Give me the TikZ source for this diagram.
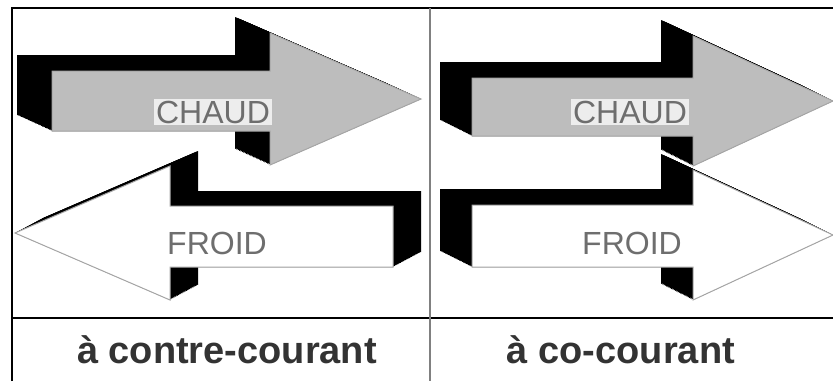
\documentclass[tikz,border=0pt]{standalone}
\usepackage{fontspec}
\setmainfont{Liberation Sans}
\usepackage{tikz}
\definecolor{chaudface}{HTML}{BDBDBD}
\definecolor{textbox}{HTML}{EDEDED}
\definecolor{facegray}{HTML}{6E6E6E}

\begin{document}
\begin{tikzpicture}[x=1pt, y=-1pt,
    front/.style={draw=gray!70, line width=1pt, line join=miter},
    facetext/.style={font=\fontsize{32}{34}\selectfont, text=facegray, inner sep=2pt},
    capt/.style={font=\fontsize{38}{40}\selectfont\bfseries, text=black!80},
    chaudL/.style={insert path={(52,71) -- (270,71) -- (270,33) -- (421,99) -- (270,165) -- (270,131) -- (52,131) -- cycle}},
    froidL/.style={insert path={(393,206) -- (170,206) -- (170,166) -- (15,233) -- (170,300) -- (170,267) -- (393,267) -- cycle}},
    chaudR/.style={insert path={(472,78) -- (693,78) -- (693,36) -- (833,101) -- (693,166) -- (693,136) -- (472,136) -- cycle}},
    froidR/.style={insert path={(472,205) -- (693,205) -- (693,170) -- (833,235) -- (693,300) -- (693,267) -- (472,267) -- cycle}}
]
\useasboundingbox (0,0) rectangle (833,381);

% frame
\draw[line width=1.3pt] (12,381) -- (12,8) -- (833,8);
\draw[line width=1.3pt] (12,318) -- (833,318);
\draw[gray, line width=1.3pt] (430,8) -- (430,381);

% extrusions
\foreach \i in {0,...,25} {
    \fill[black, shift={(-35*\i/25,-16*\i/25)}, chaudL];
    \fill[black, shift={(28*\i/25,-15*\i/25)}, froidL];
    \fill[black, shift={(-32*\i/25,-16*\i/25)}, chaudR];
    \fill[black, shift={(-32*\i/25,-16*\i/25)}, froidR];
}

% front faces
\filldraw[front, fill=chaudface, chaudL];
\filldraw[front, fill=white, froidL];
\filldraw[front, fill=chaudface, chaudR];
\filldraw[front, fill=white, froidR];

\node[facetext, fill=textbox] (chaud1) at (213,112) {CHAUD};
\node[facetext] (froid1) at (217,243) {FROID};
\node[facetext, fill=textbox] (chaud2) at (630,112) {CHAUD};
\node[facetext] (froid2) at (632,243) {FROID};

\node[capt] (contre) at (227,350) {à contre-courant};
\node[capt] (co) at (621,350) {à co-courant};
\end{tikzpicture}
\end{document}
